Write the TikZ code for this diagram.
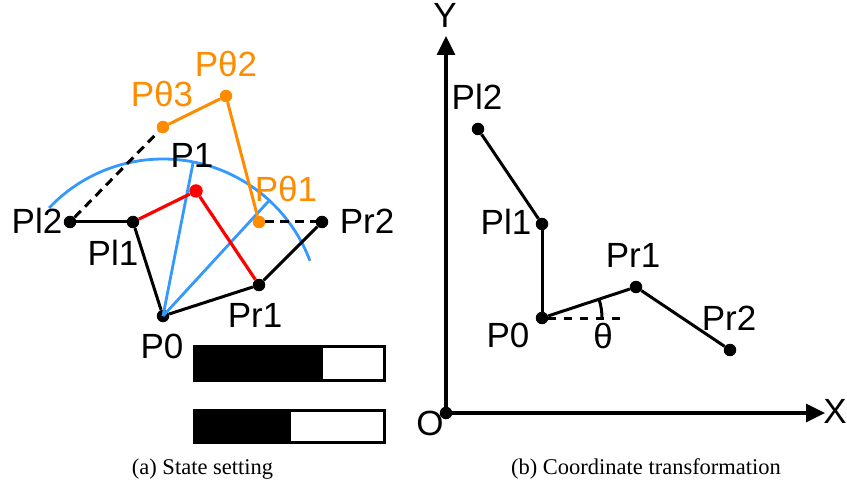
\documentclass[tikz,border=0pt]{standalone}
\usepackage{fontspec}
\setmainfont{Liberation Sans}
\newfontfamily\capfont{Liberation Serif}
\usetikzlibrary{arrows.meta}
\definecolor{orng}{RGB}{255,140,0}
\definecolor{blu}{RGB}{51,153,255}
\begin{document}
\begin{tikzpicture}[x=1pt,y=1pt,
  dot/.style={circle,fill=black,inner sep=0pt,minimum size=12.5pt},
  odot/.style={circle,fill=orng,inner sep=0pt,minimum size=12.5pt},
  rdot/.style={circle,fill=red,inner sep=0pt,minimum size=13.5pt},
  lbl/.style={anchor=base,font=\fontsize{35}{40}\selectfont,inner sep=0pt},
  olbl/.style={lbl,text=orng},
  captext/.style={anchor=base,font=\capfont\fontsize{22.5}{28}\selectfont,inner sep=0pt},
  blk/.style={line width=3pt},
  bline/.style={blu,line width=2.8pt},
  rline/.style={red,line width=3.2pt},
  oline/.style={orng,line width=3pt},
  dline/.style={line width=3pt,dash pattern=on 9pt off 6pt},
  axis/.style={line width=3.2pt,-{Triangle[length=19pt,width=18pt]}}]
\useasboundingbox (0,0) rectangle (847,483);
% ---------- (a) left panel ----------
\node[dot] (Pl2) at (70,261) {};
\node[dot] (Pl1) at (133,261) {};
\node[dot] (P0) at (163,167) {};
\node[dot] (Pr1) at (259,198) {};
\node[dot] (Pr2) at (322,261) {};
\coordinate (B1) at ([shift={(78.9:156)}]P0.center);
\coordinate (B2) at ([shift={(47.4:156)}]P0.center);
% blue arc and lines
\draw[bline] ([shift={(136.5:157)}]P0.center) arc[start angle=136.5,end angle=20.6,radius=157];
\draw[bline] (P0.center) -- (B1);
\draw[bline] (P0.center) -- (B2);
\node[rdot] (P1) at (196,292) {};
\node[odot] (Pt1) at (259,261) {};
\node[odot] (Pt2) at (226,387) {};
\node[odot] (Pt3) at (163,356) {};
% black links
\draw[blk] (Pl2) -- (Pl1);
\draw[blk] (Pl1) -- (P0);
\draw[blk] (P0) -- (Pr1);
\draw[blk] (Pr1) -- (Pr2);
\draw[dline] (Pl2) -- (Pt3);
\draw[dline] (Pt1) -- (Pr2);
% red links
\draw[rline] (Pl1) -- (P1);
\draw[rline] (P1) -- (Pr1);
% orange links
\draw[oline] (Pt3) -- (Pt2);
\draw[oline] (Pt2) -- (Pt1);
% labels
\node[olbl] (tPt2) at (226,406) {Pθ2};
\node[olbl] (tPt3) at (162,376) {Pθ3};
\node[olbl] (tPt1) at (286,281) {Pθ1};
\node[lbl] (tP1) at (192,315) {P1};
\node[lbl] (tPl2) at (37,250) {Pl2};
\node[lbl] (tPl1) at (113,218) {Pl1};
\node[lbl] (tPr2) at (367,250) {Pr2};
\node[lbl] (tPr1) at (255,156) {Pr1};
\node[lbl] (tP0) at (162,125) {P0};
% bars
\fill[black] (193,101) rectangle (323,138);
\draw[line width=3pt] (194.5,102.5) rectangle (384.5,136.5);
\fill[black] (193,39) rectangle (291,74);
\draw[line width=3pt] (194.5,40.5) rectangle (384.5,72.5);
% ---------- (b) right panel ----------
\node[dot] (O) at (446,70) {};
\coordinate (Ytip) at (446,447);
\coordinate (Xtip) at (825,70);
\draw[axis] (O.center) -- (Ytip);
\draw[axis] (O.center) -- (Xtip);
\node[dot] (Ql2) at (478,354) {};
\node[dot] (Ql1) at (542,259) {};
\node[dot] (Q0) at (542,165) {};
\node[dot] (Qr1) at (636,196) {};
\node[dot] (Qr2) at (730,133) {};
\coordinate (Qd) at (626,165);
\draw[blk] (Ql2) -- (Ql1);
\draw[blk] (Ql1) -- (Q0);
\draw[blk] (Q0) -- (Qr1);
\draw[blk] (Qr1) -- (Qr2);
\draw[line width=3pt,dash pattern=on 8pt off 8pt] (Q0) -- (Qd);
\draw[blk] ([shift={(18.3:60)}]Q0.center) arc[start angle=18.3,end angle=0,radius=60];
\node[lbl] (tY) at (445,455) {Y};
\node[lbl] (tX) at (835,60) {X};
\node[lbl] (tO) at (430,48) {O};
\node[lbl] (tQl2) at (477,373) {Pl2};
\node[lbl] (tQl1) at (506,248) {Pl1};
\node[lbl] (tQ0) at (508,136) {P0};
\node[lbl] (tQr1) at (633,216) {Pr1};
\node[lbl] (tQr2) at (729,153) {Pr2};
\node[lbl] (tth) at (603,135) {θ};
% captions
\node[captext] (ca) at (202.5,9) {(a) State setting};
\node[captext] (cb) at (646,9) {(b) Coordinate transformation};
\end{tikzpicture}
\end{document}
